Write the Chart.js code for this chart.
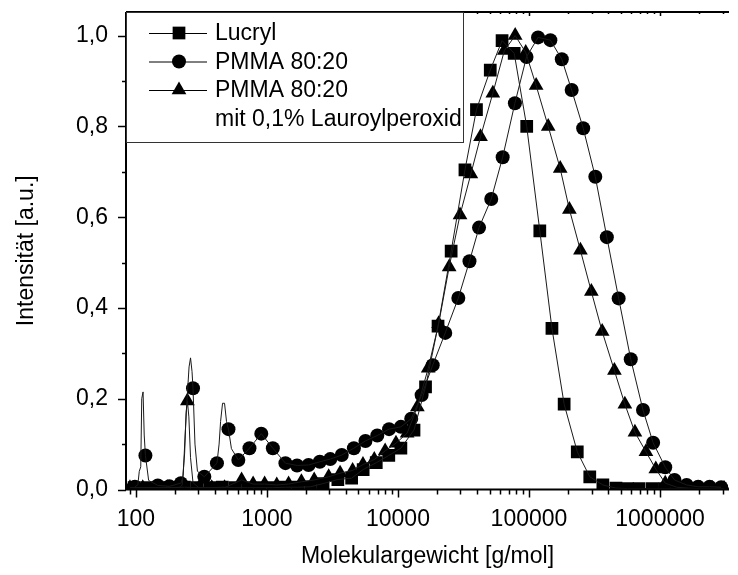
<!DOCTYPE html>
<html>
<head>
<meta charset="utf-8">
<title>Molekulargewichtsverteilung</title>
<script src="https://cdn.jsdelivr.net/npm/chart.js@4.4.1/dist/chart.umd.min.js"></script>
<style>
  html, body { margin: 0; padding: 0; background: #fff; overflow: hidden; }
  #wrap { position: relative; width: 738px; height: 575px; }
</style>
</head>
<body>
<div id="wrap"><canvas id="gpc" width="738" height="575"></canvas></div>
<script>
// Lucryl: molecular weight [g/mol] and normalised intensity at the marker points
const lucrylM = [97, 121, 151, 188, 235, 293, 366, 457, 570, 711, 887, 1107, 1382, 1725, 2153,
  2683, 3479, 4432, 5427, 6833, 8514, 10530, 13260, 16240, 20230, 25470, 32460, 39740, 50640,
  62330, 77120, 96090, 120950, 149700, 185500, 233600, 291000, 366300, 461200, 564800, 691500,
  870600, 1081000, 1342000, 1667000];
const lucrylI = [0.004, 0.004, 0.004, 0.004, 0.005, 0.004, 0.004, 0.005, 0.004, 0.004, 0.004, 0.004, 0.005, 0.005, 0.006,
  0.013, 0.022, 0.025, 0.044, 0.059, 0.075, 0.091, 0.131, 0.226, 0.360, 0.525, 0.704, 0.837, 0.924,
  0.989, 0.961, 0.800, 0.570, 0.355, 0.188, 0.083, 0.028, 0.010, 0.003, 0.002, 0.002,
  0.002, 0.002, 0.002, 0.002];

// PMMA 80:20
const pmmaM = [98.3, 118.3, 147.1, 180.1, 220.6, 273.0, 333.1, 415.7, 509.1, 605.4, 736.1, 906.0,
  1110, 1385, 1699, 2080, 2534, 3045, 3727, 4612, 5648, 6954, 8557, 10530, 12630, 15160, 18430,
  22960, 28900, 35150, 41580, 51520, 62980, 78070, 95770, 117300, 145600, 178000, 211700, 259200,
  320700, 392700, 483400, 597900, 741300, 886000, 1096000, 1290000, 1596000, 1954000, 2389000, 2926000];
const pmmaI = [0.006, 0.075, 0.009, 0.007, 0.014, 0.223, 0.028, 0.058, 0.133, 0.065, 0.091, 0.123,
  0.091, 0.058, 0.053, 0.054, 0.061, 0.067, 0.076, 0.091, 0.107, 0.119, 0.133, 0.138, 0.156, 0.208, 0.274,
  0.345, 0.422, 0.503, 0.577, 0.640, 0.732, 0.851, 0.953, 0.996, 0.990, 0.948, 0.880, 0.796,
  0.689, 0.556, 0.421, 0.287, 0.175, 0.103, 0.049, 0.021, 0.010, 0.006, 0.006, 0.005];
// oligomer peaks between the PMMA 80:20 markers (line only)
const pmmaPeakM = [103.5, 106.2, 109.0, 110.9, 113.5, 115.8, 125.2,
  229.6, 237.7, 246.0, 254.7, 261.4, 268.3, 282.6, 295.1,
  431.8, 443.2, 458.8, 475.1, 491.8, 536.2];
const pmmaPeakI = [0.010, 0.040, 0.050, 0.200, 0.215, 0.120, 0.020,
  0.030, 0.120, 0.200, 0.270, 0.290, 0.260, 0.100, 0.040,
  0.100, 0.150, 0.190, 0.190, 0.150, 0.090];

// PMMA 80:20 mit 0,1% Lauroylperoxid
const pmmaLpM = [90.1, 112.9, 141.4, 174.0, 217.9, 247.3, 302.9, 379.3, 475.1, 641.0, 784.8, 960.9,
  1189, 1464, 1834, 2296, 2961, 3620, 4510, 5409, 6598, 7987, 9661, 11750, 14070, 17020, 20440,
  24600, 29770, 36010, 42670, 52990, 64860, 78460, 94450, 113400, 140200, 173100, 203400, 246900,
  299200, 361900, 448600, 539000, 643300, 780800, 928400, 1096000, 1342000, 1652000, 2033000,
  2503000, 3083000];
const pmmaLpI = [0.004, 0.004, 0.004, 0.004, 0.005, 0.195, 0.004, 0.004, 0.004, 0.021, 0.012, 0.012,
  0.010, 0.012, 0.017, 0.021, 0.028, 0.036, 0.042, 0.055, 0.066, 0.085, 0.102, 0.124, 0.182, 0.267, 0.365,
  0.490, 0.605, 0.695, 0.777, 0.873, 0.967, 1.000, 0.963, 0.890, 0.800, 0.707, 0.617, 0.527,
  0.436, 0.348, 0.262, 0.188, 0.126, 0.083, 0.045, 0.014, 0.005, 0.003, 0.002,
  0.002, 0.002];
const pmmaLpPeakM = [225.6, 235.6, 241.8, 253.8, 261.4, 273.0];
const pmmaLpPeakI = [0.010, 0.080, 0.170, 0.160, 0.070, 0.015];

// axis ticks
const xTicks = [100, 1000, 10000, 100000, 1000000];
const xTickLabels = ['100', '1000', '10000', '100000', '1000000'];
const yTicks = [0, 0.2, 0.4, 0.6, 0.8, 1.0];
const yTickLabels = ['0,0', '0,2', '0,4', '0,6', '0,8', '1,0'];
const yMinorTicks = [0.1, 0.3, 0.5, 0.7, 0.9];

const legendLabels = ['Lucryl', 'PMMA 80:20', 'PMMA 80:20', 'mit 0,1% Lauroylperoxid'];

const FONT = '"Liberation Sans", Arial, sans-serif';
const INK = '#000';

function pts(ms, is) {
  return ms.map((m, i) => ({ x: m, y: is[i] }));
}
function lineData(ms, is, pm, pi) {
  return pts(ms, is).concat(pts(pm, pi)).sort((a, b) => a.x - b.x);
}

function lineSet(data) {
  return { data: data, showLine: true, pointRadius: 0, borderColor: '#1a1a1a',
    borderWidth: 1, tension: 0, clip: 0 };
}
function markSet(data, style, r) {
  return { data: data, showLine: false, pointStyle: style, pointRadius: r,
    pointBackgroundColor: INK, pointBorderColor: INK, pointBorderWidth: 0, clip: 0 };
}

const markStyles = ['rect', 'circle', 'triangle'];
const markRadii = [9, 7, 8.5];

// marker shapes for the legend, same geometry Chart.js uses
function marker(ctx, style, x, y, r) {
  ctx.beginPath();
  if (style === 'rect') {
    const s = r * Math.SQRT1_2;
    ctx.rect(x - s, y - s, 2 * s, 2 * s);
  } else if (style === 'circle') {
    ctx.arc(x, y, r, 0, Math.PI * 2);
  } else {
    ctx.moveTo(x, y - r);
    ctx.lineTo(x + r * 0.866, y + r / 2);
    ctx.lineTo(x - r * 0.866, y + r / 2);
    ctx.closePath();
  }
  ctx.fill();
}

const frame = {
  id: 'frame',
  afterDraw(chart) {
    const ctx = chart.ctx;
    const a = chart.chartArea;
    const xs = chart.scales.x, ys = chart.scales.y;
    ctx.save();
    ctx.strokeStyle = INK;
    ctx.fillStyle = INK;

    // axis lines
    ctx.lineWidth = 2;
    ctx.beginPath();
    ctx.moveTo(a.left, a.top);
    ctx.lineTo(a.right, a.top);
    ctx.moveTo(a.left, a.top);
    ctx.lineTo(a.left, a.bottom);
    ctx.moveTo(a.left - 1, a.bottom);
    ctx.lineTo(a.right, a.bottom);
    ctx.stroke();

    // x ticks, decades long, 2..9 short
    ctx.lineWidth = 1.5;
    ctx.beginPath();
    for (let e = 1; e <= 6; e++) {
      for (let k = 1; k <= 9; k++) {
        const v = k * Math.pow(10, e);
        if (v < xs.min || v > xs.max) continue;
        const px = Math.round(xs.getPixelForValue(v)) + 0.5;
        const len = k === 1 ? 8 : 5;
        ctx.moveTo(px, a.bottom);
        ctx.lineTo(px, a.bottom + len);
        ctx.moveTo(px, a.top);
        ctx.lineTo(px, a.top + (k === 1 ? 4 : 2));
      }
    }
    // y ticks
    yTicks.forEach(v => {
      const py = Math.round(ys.getPixelForValue(v)) + 0.5;
      ctx.moveTo(a.left - 8, py);
      ctx.lineTo(a.left, py);
    });
    yMinorTicks.forEach(v => {
      const py = Math.round(ys.getPixelForValue(v)) + 0.5;
      ctx.moveTo(a.left - 4, py);
      ctx.lineTo(a.left, py);
    });
    ctx.stroke();

    // tick labels
    ctx.font = '23px ' + FONT;
    ctx.textAlign = 'center';
    ctx.textBaseline = 'middle';
    xTicks.forEach((v, i) => {
      ctx.fillText(xTickLabels[i], xs.getPixelForValue(v), a.bottom + 30);
    });
    ctx.textAlign = 'right';
    yTicks.forEach((v, i) => {
      ctx.fillText(yTickLabels[i], a.left - 18, ys.getPixelForValue(v));
    });

    // axis titles
    ctx.textAlign = 'center';
    ctx.fillText('Molekulargewicht [g/mol]', (a.left + a.right) / 2, a.bottom + 67);
    ctx.save();
    ctx.translate(27, (a.top + a.bottom) / 2);
    ctx.rotate(-Math.PI / 2);
    ctx.fillText('Intensität [a.u.]', 0, 0);
    ctx.restore();

    // legend box
    const bx = a.left, by = a.top, bw = 337, bh = 130;
    ctx.fillStyle = '#fff';
    ctx.fillRect(bx + 1, by + 1, bw - 1, bh - 1);
    ctx.strokeStyle = '#333';
    ctx.lineWidth = 1;
    ctx.strokeRect(bx + 0.5, by + 0.5, bw, bh);
    ctx.fillStyle = INK;
    ctx.strokeStyle = INK;
    const rowY = [33, 61.5, 90, 118.5];
    ctx.textAlign = 'left';
    ctx.font = '23px ' + FONT;
    legendLabels.forEach((t, i) => {
      if (i < 3) {
        ctx.beginPath();
        ctx.moveTo(149, rowY[i] + 0.5);
        ctx.lineTo(207, rowY[i] + 0.5);
        ctx.stroke();
        marker(ctx, markStyles[i], 179, rowY[i], markRadii[i]);
      }
      ctx.fillText(t, 215, rowY[i] + 1);
    });
    ctx.restore();
  }
};

new Chart(document.getElementById('gpc'), {
  type: 'scatter',
  data: {
    datasets: [
      lineSet(lineData(lucrylM, lucrylI, [], [])),
      lineSet(lineData(pmmaM, pmmaI, pmmaPeakM, pmmaPeakI)),
      lineSet(lineData(pmmaLpM, pmmaLpI, pmmaLpPeakM, pmmaLpPeakI)),
      markSet(pts(lucrylM, lucrylI), markStyles[0], markRadii[0]),
      markSet(pts(pmmaM, pmmaI), markStyles[1], markRadii[1]),
      markSet(pts(pmmaLpM, pmmaLpI), markStyles[2], markRadii[2])
    ]
  },
  options: {
    responsive: false,
    devicePixelRatio: 1,
    animation: false,
    layout: { padding: { left: 126, right: 0, top: 12, bottom: 85.5 } },
    plugins: { legend: { display: false }, tooltip: { enabled: false } },
    scales: {
      x: { type: 'logarithmic', min: 84.1, max: 3.36e6, display: false },
      y: { type: 'linear', min: 0, max: 1.052, display: false }
    }
  },
  plugins: [frame]
});
</script>
</body>
</html>
